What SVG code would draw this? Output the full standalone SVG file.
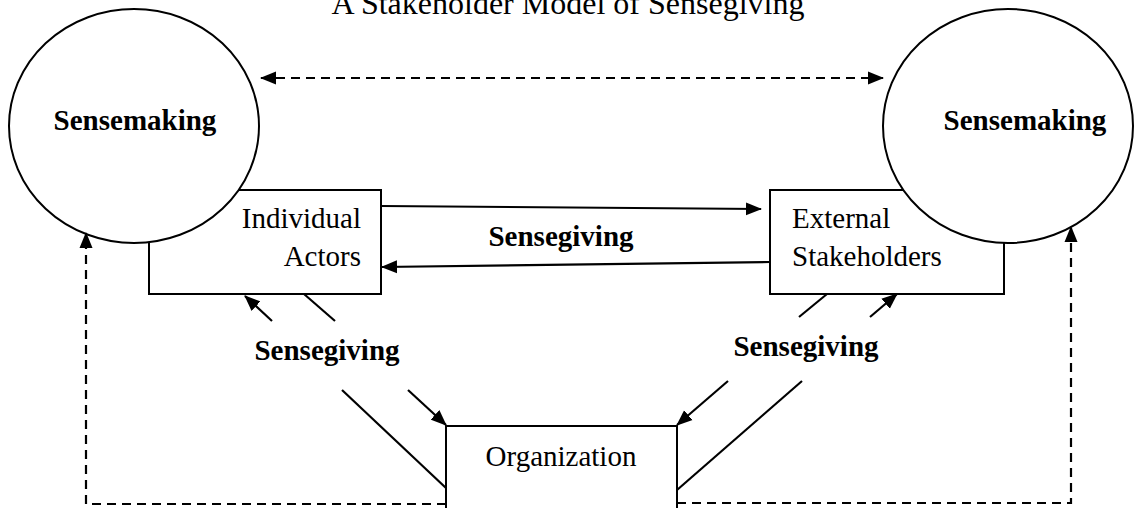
<svg xmlns="http://www.w3.org/2000/svg" width="1140" height="508" viewBox="0 0 1140 508">
<defs>
<marker id="ah" markerUnits="userSpaceOnUse" markerWidth="16" markerHeight="14" refX="15" refY="6.5" orient="auto-start-reverse" viewBox="0 0 16 13">
<path d="M0,0 L16,6.5 L0,13 z" fill="#000" stroke="none"/>
</marker>
</defs>
<style>
.box{fill:#fff;stroke:#000;stroke-width:2}
.node{fill:#fff;stroke:#000;stroke-width:2}
.ln{fill:none;stroke:#000;stroke-width:2.2}
.dash{fill:none;stroke:#000;stroke-width:2.2;stroke-dasharray:9 6}
.t{font-family:"Liberation Serif","Times New Roman",serif;font-size:29px;fill:#000}
.b{font-family:"Liberation Serif","Times New Roman",serif;font-size:29px;font-weight:bold;fill:#000}
</style>
<rect width="1140" height="508" fill="#fff"/>
<text class="t" x="568" y="14" text-anchor="middle" style="font-size:32px">A Stakeholder Model of Sensegiving</text>

<g id="individual-actors">
<rect class="box" x="149" y="190" width="232" height="104"/>
<text class="t" x="361" y="228" text-anchor="end">Individual</text>
<text class="t" x="361" y="266" text-anchor="end">Actors</text>
</g>
<g id="external-stakeholders">
<rect class="box" x="770" y="190" width="234" height="104"/>
<text class="t" x="792" y="228">External</text>
<text class="t" x="792" y="266">Stakeholders</text>
</g>
<g id="organization">
<path class="box" d="M446,510 L446,426 L677,426 L677,510"/>
<text class="t" x="561" y="466" text-anchor="middle">Organization</text>
</g>
<g id="sensemaking-left">
<ellipse class="node" cx="134" cy="126" rx="125" ry="117"/>
<text class="b" x="135" y="130" text-anchor="middle">Sensemaking</text>
</g>
<g id="sensemaking-right">
<ellipse class="node" cx="1008" cy="126" rx="125" ry="117"/>
<text class="b" x="1025" y="130" text-anchor="middle">Sensemaking</text>
</g>

<g id="connectors">
<line class="dash" x1="261" y1="78" x2="883" y2="78" marker-start="url(#ah)" marker-end="url(#ah)"/>
<line class="ln" x1="381" y1="206" x2="761" y2="209" marker-end="url(#ah)"/>
<line class="ln" x1="770" y1="262" x2="382" y2="267" marker-end="url(#ah)"/>
<line class="ln" x1="446" y1="488" x2="342" y2="390"/>
<line class="ln" x1="272" y1="321" x2="245" y2="296" marker-end="url(#ah)"/>
<line class="ln" x1="304" y1="294" x2="335" y2="321"/>
<line class="ln" x1="408" y1="390" x2="446" y2="425" marker-end="url(#ah)"/>
<line class="ln" x1="677" y1="490" x2="802" y2="381"/>
<line class="ln" x1="870" y1="317" x2="897" y2="294" marker-end="url(#ah)"/>
<line class="ln" x1="827" y1="294" x2="799" y2="317"/>
<line class="ln" x1="728" y1="381" x2="677" y2="425" marker-end="url(#ah)"/>
<path class="dash" d="M446,504 L86,504 L86,233" marker-end="url(#ah)"/>
<path class="dash" d="M677,503 L1071,503 L1071,227" marker-end="url(#ah)"/>
<text class="b" x="561" y="246" text-anchor="middle">Sensegiving</text>
<text class="b" x="327" y="360" text-anchor="middle">Sensegiving</text>
<text class="b" x="806" y="356" text-anchor="middle">Sensegiving</text>
</g>
</svg>
